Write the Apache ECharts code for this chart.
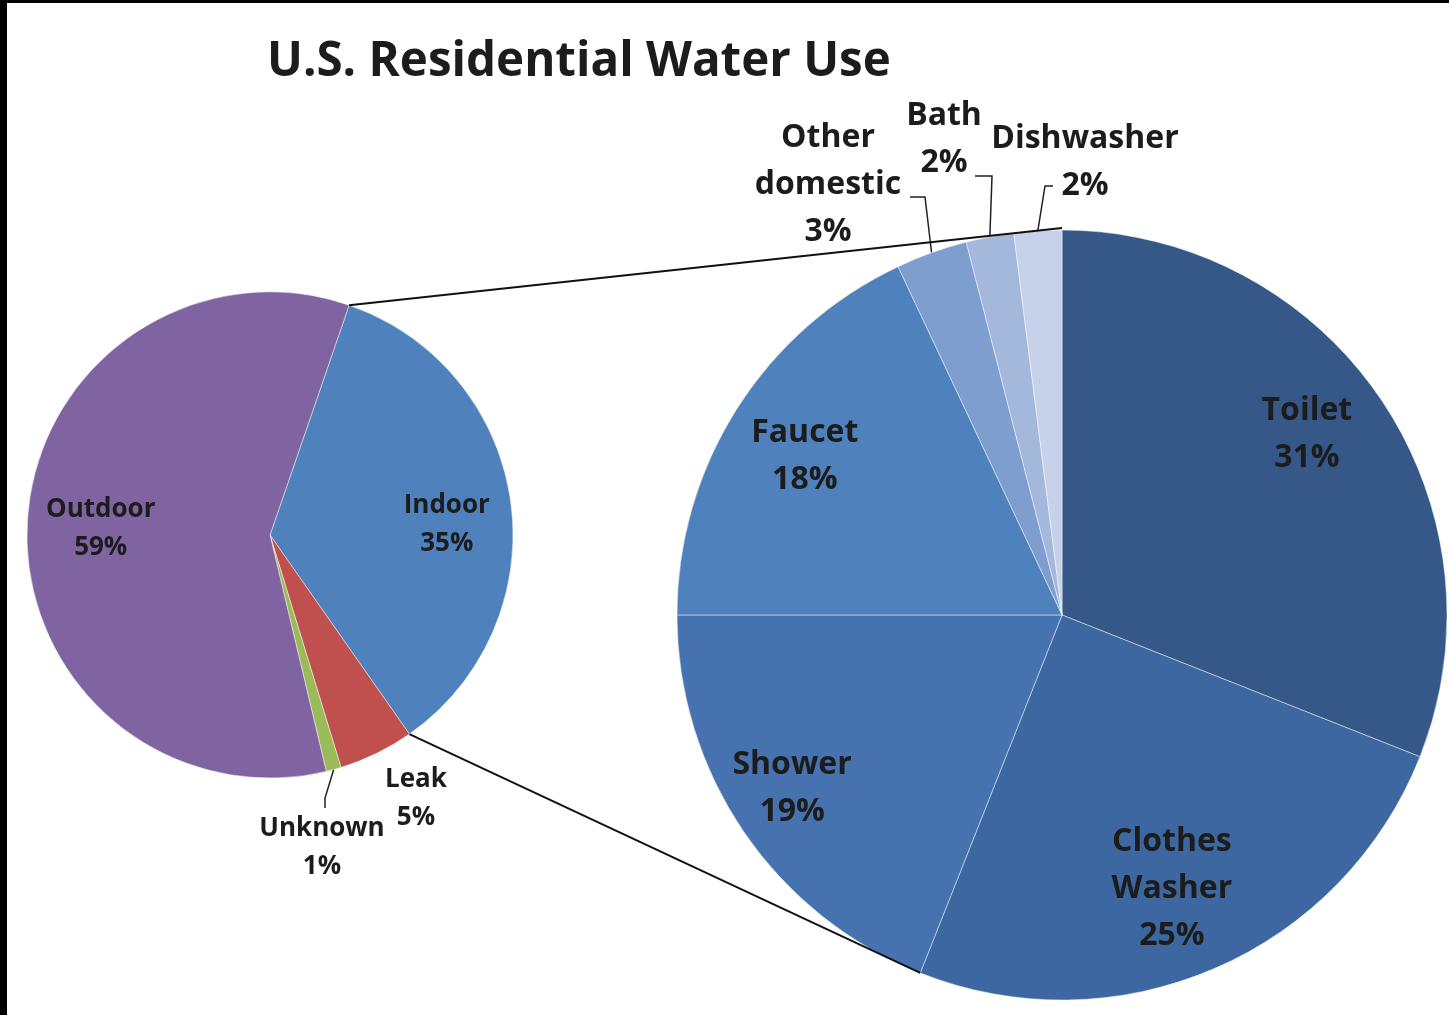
<!DOCTYPE html>
<html>
<head>
<meta charset="utf-8">
<script src="https://cdn.jsdelivr.net/npm/echarts@6/dist/echarts.min.js"></script>
<style>
  html, body { margin: 0; padding: 0; background: #000; }
  #chart { position: absolute; left: 7px; top: 3px; width: 1442px; height: 1012px; background: #fff; }
</style>
</head>
<body>
<div id="chart"></div>
<script>
// ---- data ----
const titleText = 'U.S. Residential Water Use';
const leftCategories = ['Indoor', 'Leak', 'Unknown', 'Outdoor'];
const leftLabels = ['Indoor', 'Leak', 'Unknown', 'Outdoor'];
const leftValues = [35, 5, 1, 59];
const leftColors = ['#4f81bd', '#c0504d', '#9bbb59', '#8064a2'];
const leftInside = [true, false, false, true];

const rightCategories = ['Toilet', 'Clothes Washer', 'Shower', 'Faucet', 'Other domestic', 'Bath', 'Dishwasher'];
const rightLabels = ['Toilet', 'Clothes\nWasher', 'Shower', 'Faucet', 'Other\ndomestic', 'Bath', 'Dishwasher'];
const rightValues = [31, 25, 19, 18, 3, 2, 2];
const rightColors = ['#355888', '#3d67a0', '#4673b0', '#4f81bd', '#7d9ecf', '#a4b8dc', '#c5d2e9'];
const rightInside = [true, true, true, true, false, false, false];

// ---- layout / style ----
const FONT = '"Open Sans", Lato, sans-serif';
const TXT = '#1c1c1c';
const LEFT = { center: [263, 532], r: 243, startAngle: 71 };
const RIGHT = { center: [1055, 612], r: 385, startAngle: 90 };
// outside label positions (chart coordinates) and leader-line anchor offsets relative to them
const outsidePos = {
  '0-1': { pos: [409, 796] },
  '0-2': { pos: [315, 845], anchor: [3, -40], elbow: [3, -50] },
  '1-4': { pos: [821, 182], anchor: [82, 12], elbow: [97, 12] },
  '1-5': { pos: [937, 136], anchor: [31, 37], elbow: [48, 37] },
  '1-6': { pos: [1078, 159], anchor: [-32, 24], elbow: [-40, 24] }
};
// fine offsets for inside labels (Excel-like placement)
const insideShift = {
  '2-0': [2, 14], '2-3': [7, 2],
  '3-0': [-9, -8], '3-1': [-12, -8], '3-2': [-16, 1], '3-3': [2, 6]
};

function fmt(labels) {
  return function (p) { return labels[p.dataIndex] + '\n' + p.value + '%'; };
}

function mainData(cats, vals, colors, inside) {
  return cats.map(function (c, i) {
    return {
      name: c, value: vals[i],
      itemStyle: { color: colors[i] },
      label: { show: !inside[i] },
      labelLine: { show: !inside[i] && c !== 'Leak' }
    };
  });
}
function ghostData(cats, vals, inside) {
  return cats.map(function (c, i) {
    return { name: c, value: vals[i], label: { show: inside[i] } };
  });
}

const chart = echarts.init(document.getElementById('chart'), null, { renderer: 'canvas' });

function outsideLayout(p) {
  const cfg = outsidePos[p.seriesIndex + '-' + p.dataIndex];
  if (!cfg) return {};
  const res = { x: cfg.pos[0], y: cfg.pos[1], align: 'center', verticalAlign: 'middle' };
  if (cfg.anchor) {
    const l = chart.getModel().getSeriesByIndex(p.seriesIndex).getData().getItemLayout(p.dataIndex);
    const mid = (l.startAngle + l.endAngle) / 2;
    res.labelLinePoints = [
      [l.cx + l.r * Math.cos(mid), l.cy + l.r * Math.sin(mid)],
      [cfg.pos[0] + cfg.elbow[0], cfg.pos[1] + cfg.elbow[1]],
      [cfg.pos[0] + cfg.anchor[0], cfg.pos[1] + cfg.anchor[1]]
    ];
  }
  return res;
}
function insideLayout(p) {
  const s = insideShift[p.seriesIndex + '-' + p.dataIndex];
  return s ? { dx: s[0], dy: s[1] } : {};
}

const commonMain = {
  type: 'pie',
  clockwise: true,
  avoidLabelOverlap: false,
  silent: true,
  emphasis: { disabled: true },
  animation: false
};

const option = {
  animation: false,
  backgroundColor: '#fff',
  title: {
    text: titleText,
    left: 260,
    top: 35,
    padding: 0,
    textStyle: { fontFamily: FONT, fontWeight: 'bold', fontSize: 47.5, color: TXT }
  },
  series: [
    Object.assign({}, commonMain, {
      name: 'main-left',
      center: LEFT.center, radius: LEFT.r, startAngle: LEFT.startAngle,
      itemStyle: { borderColor: 'rgba(255,255,255,0.45)', borderWidth: 1 },
      label: {
        position: 'outside', formatter: fmt(leftLabels),
        fontFamily: FONT, fontWeight: 'bold', fontSize: 26, lineHeight: 38, color: TXT, align: 'center'
      },
      labelLine: { length: 10, length2: 12, lineStyle: { color: '#222', width: 1.5 } },
      labelLayout: outsideLayout,
      data: mainData(leftCategories, leftValues, leftColors, leftInside)
    }),
    Object.assign({}, commonMain, {
      name: 'main-right',
      center: RIGHT.center, radius: RIGHT.r, startAngle: RIGHT.startAngle,
      itemStyle: { borderColor: 'rgba(255,255,255,0.45)', borderWidth: 1 },
      label: {
        position: 'outside', formatter: fmt(rightLabels),
        fontFamily: FONT, fontWeight: 'bold', fontSize: 32, lineHeight: 47, color: TXT, align: 'center'
      },
      labelLine: { length: 10, length2: 14, lineStyle: { color: '#222', width: 1.5 } },
      labelLayout: outsideLayout,
      data: mainData(rightCategories, rightValues, rightColors, rightInside)
    }),
    Object.assign({}, commonMain, {
      name: 'labels-left',
      center: LEFT.center, radius: [Math.round(LEFT.r * 0.43), LEFT.r], startAngle: LEFT.startAngle,
      itemStyle: { color: 'rgba(0,0,0,0)' },
      label: {
        position: 'inside', formatter: fmt(leftLabels),
        fontFamily: FONT, fontWeight: 'bold', fontSize: 26, lineHeight: 38, color: TXT, align: 'center'
      },
      labelLine: { show: false },
      labelLayout: insideLayout,
      data: ghostData(leftCategories, leftValues, leftInside)
    }),
    Object.assign({}, commonMain, {
      name: 'labels-right',
      center: RIGHT.center, radius: [Math.round(RIGHT.r * 0.58), RIGHT.r], startAngle: RIGHT.startAngle,
      itemStyle: { color: 'rgba(0,0,0,0)' },
      label: {
        position: 'inside', formatter: fmt(rightLabels),
        fontFamily: FONT, fontWeight: 'bold', fontSize: 32, lineHeight: 47, color: TXT, align: 'center'
      },
      labelLine: { show: false },
      labelLayout: insideLayout,
      data: ghostData(rightCategories, rightValues, rightInside)
    })
  ]
};

chart.setOption(option);

// connector lines between the two pies, from the library's own pie layouts
// (added straight to the renderer so the label layout is not re-run)
function pt(l, ang) {
  return [l.cx + l.r * Math.cos(ang), l.cy + l.r * Math.sin(ang)];
}
const model = chart.getModel();
const lIndoor = model.getSeriesByIndex(0).getData().getItemLayout(0);
const rFirst = model.getSeriesByIndex(1).getData().getItemLayout(0);
const rSecond = model.getSeriesByIndex(1).getData().getItemLayout(1);
const a1 = pt(lIndoor, lIndoor.startAngle);
const a2 = pt(lIndoor, lIndoor.endAngle);
const b1 = pt(rFirst, rFirst.startAngle);
const b2 = pt(rSecond, rSecond.endAngle);
const zr = chart.getZr();
[[a1, [b1[0], b1[1] - 2]], [a2, b2]].forEach(function (seg) {
  zr.add(new echarts.graphic.Line({
    z: 1000, zlevel: 0, silent: true,
    shape: { x1: seg[0][0], y1: seg[0][1], x2: seg[1][0], y2: seg[1][1] },
    style: { stroke: '#111', lineWidth: 2 }
  }));
});
</script>
</body>
</html>
